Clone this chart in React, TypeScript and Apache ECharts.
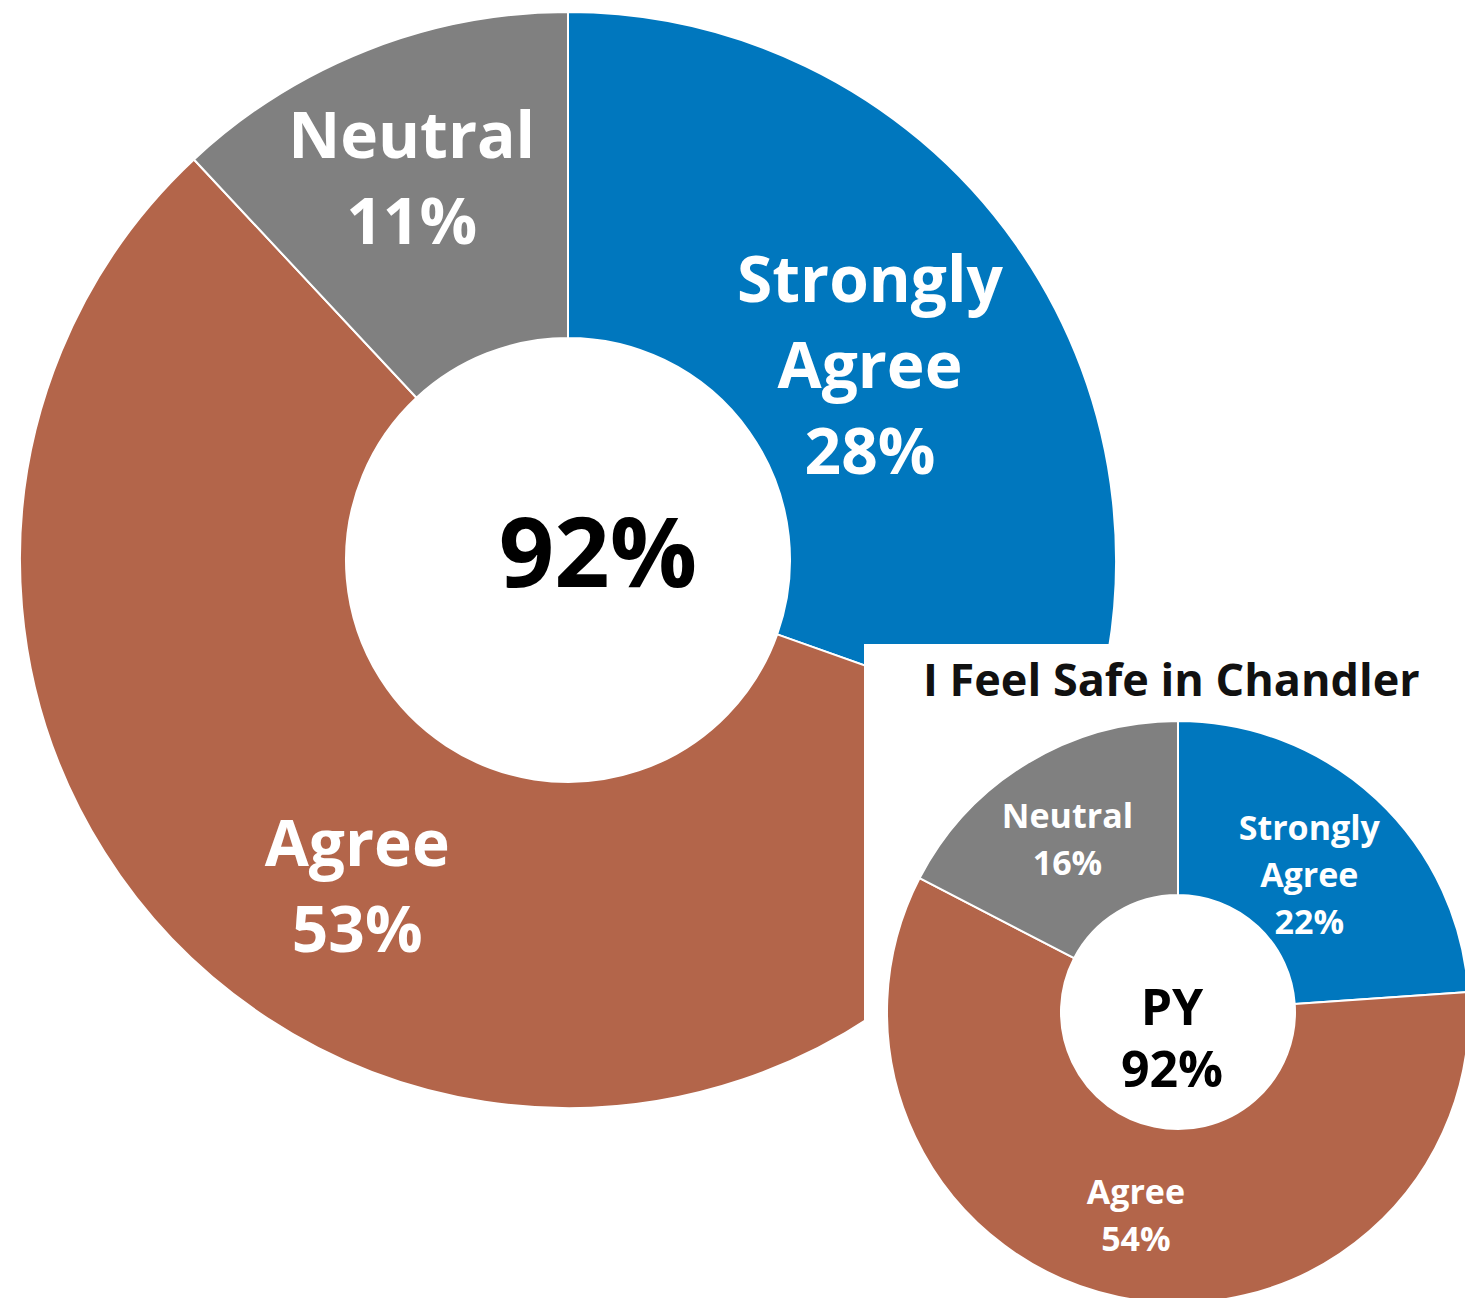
import React, { useEffect, useRef } from "react";
import * as echarts from "echarts";

const categories = ["Strongly Agree", "Agree", "Neutral"];
const currentValues = [28, 53, 11];
const priorValues = [22, 54, 16];
const currentTotal = "92%";
const priorTotal = "92%";
const priorLabel = "PY";
const insetTitle = "I Feel Safe in Chandler";
const colors = ["#0077BE", "#B3654A", "#808080"];

const FONT = "'Open Sans', 'Noto Sans', sans-serif";

const bigLabelShift = [
  { dx: -15, dy: 27 },
  { dx: 2, dy: 0 },
  { dx: -14, dy: -23 },
];
const smallLabelShift = [
  { dx: -10, dy: 13 },
  { dx: 0, dy: 0 },
  { dx: -3, dy: 3 },
];

function pieData(values: number[]) {
  return categories.map((name, i) => ({
    name,
    value: values[i],
    itemStyle: { color: colors[i] },
  }));
}

function fmt(p: any) {
  return String(p.name).replace(" ", "\n") + "\n" + p.value + "%";
}

export default function App() {
  const bigRef = useRef<HTMLDivElement>(null);
  const smallRef = useRef<HTMLDivElement>(null);

  useEffect(() => {
    document.body.style.margin = "0";
    const big = echarts.init(bigRef.current!, undefined, { renderer: "svg" });
    big.setOption({
      animation: false,
      series: [
        {
          type: "pie",
          center: [568, 560],
          radius: [222, 548],
          startAngle: 90,
          clockwise: true,
          silent: true,
          itemStyle: { borderColor: "#ffffff", borderWidth: 2 },
          label: {
            show: true,
            position: "inside",
            formatter: fmt,
            color: "#ffffff",
            fontFamily: FONT,
            fontWeight: "bold",
            fontSize: 64,
            lineHeight: 86,
          },
          labelLayout: (p: any) => bigLabelShift[p.dataIndex],
          labelLine: { show: false },
          data: pieData(currentValues),
        },
      ],
      graphic: [
        {
          type: "text",
          x: 598,
          y: 549,
          style: {
            text: currentTotal,
            fill: "#000000",
            font: `bold 97px ${FONT}`,
            align: "center",
            verticalAlign: "middle",
          },
        },
      ],
    });

    const small = echarts.init(smallRef.current!, undefined, { renderer: "svg" });
    small.setOption({
      animation: false,
      title: {
        text: insetTitle,
        left: 54,
        top: 7,
        textStyle: {
          fontFamily: FONT,
          fontWeight: "bold",
          fontSize: 45,
          color: "#111111",
        },
      },
      series: [
        {
          type: "pie",
          center: [314, 368],
          radius: [117, 291],
          startAngle: 90,
          clockwise: true,
          silent: true,
          itemStyle: { borderColor: "#ffffff", borderWidth: 2 },
          label: {
            show: true,
            position: "inside",
            formatter: fmt,
            color: "#ffffff",
            fontFamily: FONT,
            fontWeight: "bold",
            fontSize: 34,
            lineHeight: 47,
          },
          labelLayout: (p: any) => smallLabelShift[p.dataIndex],
          labelLine: { show: false },
          data: pieData(priorValues),
        },
      ],
      graphic: [
        {
          type: "text",
          x: 308,
          y: 362,
          style: {
            text: priorLabel,
            fill: "#000000",
            font: `bold 50px ${FONT}`,
            lineHeight: 56,
            align: "center",
            verticalAlign: "middle",
          },
        },
        {
          type: "text",
          x: 308,
          y: 424,
          style: {
            text: priorTotal,
            fill: "#000000",
            font: `bold 50px ${FONT}`,
            lineHeight: 56,
            align: "center",
            verticalAlign: "middle",
          },
        },
      ],
    });

    return () => {
      big.dispose();
      small.dispose();
    };
  }, []);

  return (
    <div style={{ position: "relative", width: 1465, height: 1298, overflow: "hidden", background: "#ffffff" }}>
      <div ref={bigRef} style={{ position: "absolute", left: 0, top: 0, width: 1465, height: 1298 }} />
      <div
        ref={smallRef}
        style={{ position: "absolute", left: 864, top: 644, width: 601, height: 654, background: "#ffffff", overflow: "hidden" }}
      />
    </div>
  );
}
